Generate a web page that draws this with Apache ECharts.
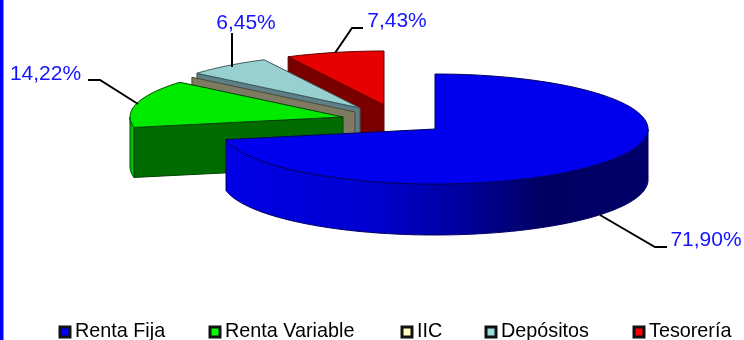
<!DOCTYPE html>
<html><head><meta charset="utf-8">
<style>html,body{margin:0;padding:0;background:#fff}#c{width:744px;height:340px}</style>
<script src="https://cdn.jsdelivr.net/npm/echarts@6/dist/echarts.min.js"></script>
</head><body><div id="c"></div>
<script>
var categories = ['Renta Fija','Renta Variable','IIC','Depósitos','Tesorería'];
var shares = [71.90,14.22,0,6.45,7.43];
var legendColors = ['#0000ff','#00ff00','#ffffc0','#99dddd','#ff0000'];
var topColors = ['#0000ee','#00ea00','#ffffcc','#98cfcf','#e60000'];
var wallColors = ['#00006e','#006c00','#7f7a62','#5d7f85','#7a0000'];
var edgeColors = ['#000060','#004400','#4a4a38','#3c5a60','#600000'];
var legendLefts = [58.5,208.5,400.5,484.5,632.5];

// Layout of the drawing (not data)
var radius = 213;
var layout = [
  {cx:435,cy:129,ry:55,depth:51,label:[706,240],leader:[[667,247],[655,247],[600,215]]},
  {cx:343,cy:117,ry:54,depth:50,label:[45.5,74],leader:[[88,80],[100,80],[138,104]]},
  {cx:355,cy:112,ry:54,depth:50},
  {cx:360,cy:108,ry:54,depth:50,label:[246,23],leader:[[232,33],[232,67]]},
  {cx:384,cy:105,ry:54,depth:50,label:[397,21],leader:[[363,28],[352,28],[335,53]]}
];

var total = shares.reduce(function(a,b){return a+b;},0);
var starts = [], acc = 0;
shares.forEach(function(v){starts.push(acc); acc += v;});
function deg(v){return v/total*360;}
function rim(l,a,dz){var r=a*Math.PI/180;return [l.cx+radius*Math.sin(r), l.cy-l.ry*Math.cos(r)+(dz||0)];}
function arc(l,a0,a1,dz){var pts=[],n=Math.max(1,Math.ceil(Math.abs(a1-a0)));for(var i=0;i<=n;i++)pts.push(rim(l,a0+(a1-a0)*i/n,dz));return pts;}

function makeRender(idx){
  return function(params,api){
    var l=layout[idx], a0=deg(starts[idx]), a1=a0+deg(api.value(0)), d=l.depth;
    var kids=[], c=[l.cx,l.cy], cb=[l.cx,l.cy+d];
    function face(points,fill){kids.push({type:'polygon',shape:{points:points},style:{fill:fill,stroke:edgeColors[idx],lineWidth:1,lineJoin:'round'}});}
    if(Math.sin(a0*Math.PI/180)<-1e-6){
      face([c,rim(l,a0),rim(l,a0,d),cb],wallColors[idx]);
    }
    var v0=Math.max(a0,90), v1=Math.min(a1,270);
    if(v1>v0){
      var outer=arc(l,v0,v1).concat(arc(l,v1,v0,d));
      var fill=idx===0?{type:'linear',x:0,y:0,x2:1,y2:0,colorStops:[{offset:0,color:'#0000e6'},{offset:0.35,color:'#0000d0'},{offset:0.55,color:'#0000a0'},{offset:0.75,color:'#000062'},{offset:1,color:'#00006a'}]}:(idx===1?'#00c000':wallColors[idx]);
      face(outer,fill);
    }
    if(a1>a0) face([c].concat(arc(l,a0,a1)),topColors[idx]);
    if(l.leader){
      kids.push({type:'polyline',shape:{points:l.leader},style:{stroke:'#000',lineWidth:2,fill:null},z2:5});
      kids.push({type:'text',x:l.label[0],y:l.label[1],z2:6,style:{text:api.value(0).toFixed(2).replace('.',',')+'%',fill:'#1414ff',font:'21px "Liberation Sans", Arial, sans-serif',align:'center',verticalAlign:'middle'}});
    }
    return {type:'group',children:kids};
  };
}
var drawOrder=[4,3,2,1,0];
var series=categories.map(function(name,i){
  return {type:'custom',name:name,coordinateSystem:'none',z:2+drawOrder.indexOf(i),silent:true,animation:false,
    itemStyle:{color:legendColors[i]},data:[[shares[i]]],renderItem:makeRender(i),clip:false};
});
var legends=categories.map(function(name,i){
  return {data:[name],icon:'rect',left:legendLefts[i],top:322,itemWidth:10,itemHeight:10,selectedMode:false,padding:0,
    itemStyle:{borderColor:'#111',borderWidth:3},
    textStyle:{color:'#000',fontSize:19.8,fontFamily:'"Liberation Sans", Arial, sans-serif'}};
});
var chart=echarts.init(document.getElementById('c'),null,{renderer:'canvas'});
chart.setOption({
  animation:false,backgroundColor:'#fff',
  graphic:[{type:'rect',shape:{x:0,y:0,width:3.5,height:340},style:{fill:'#0000ff'},silent:true}],
  legend:legends,
  series:series
});
</script></body></html>
